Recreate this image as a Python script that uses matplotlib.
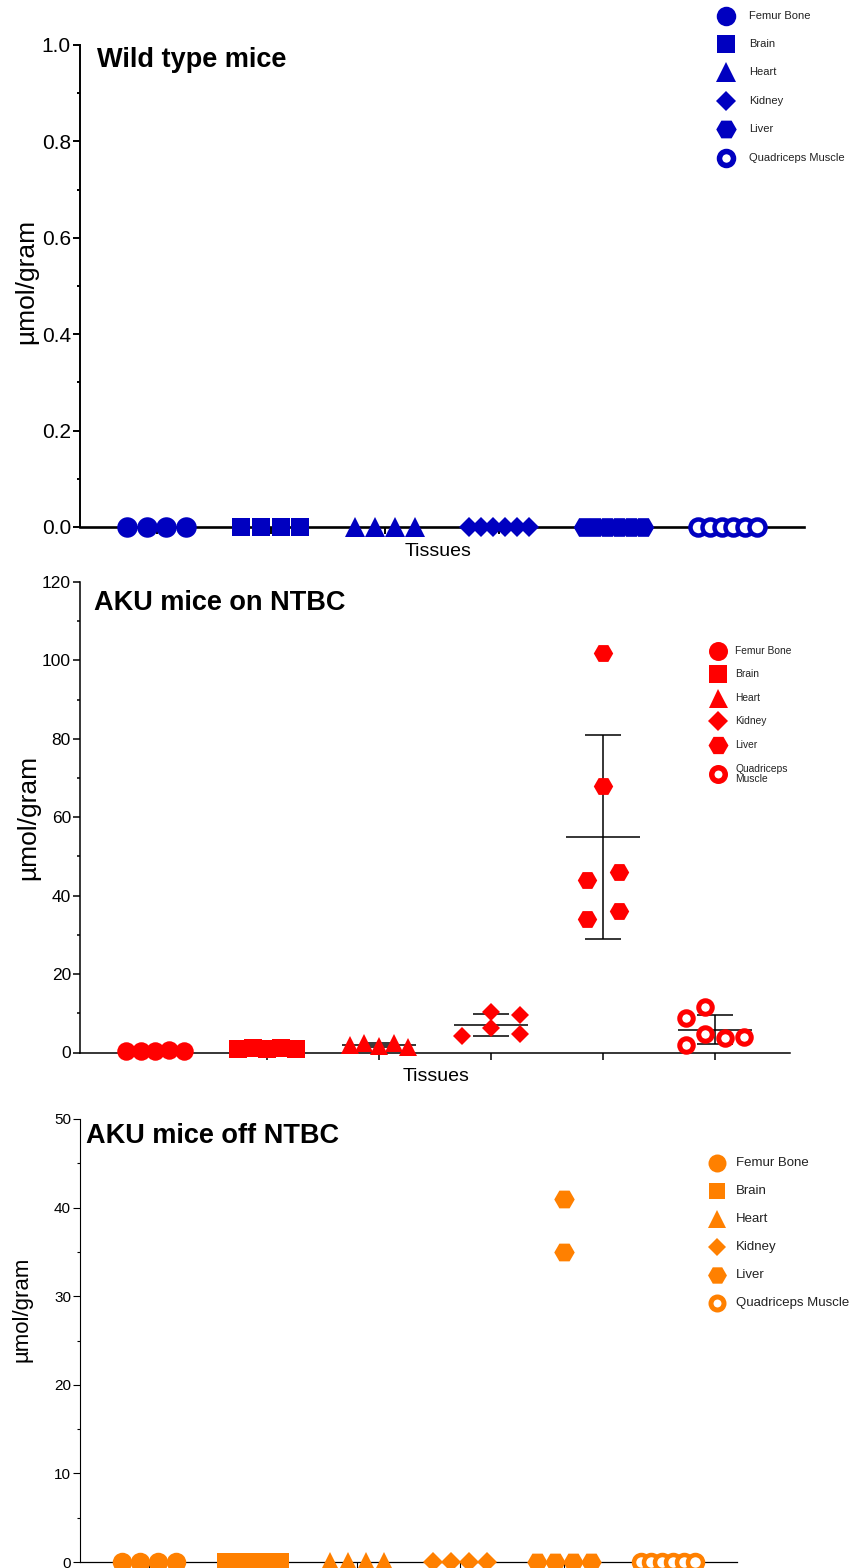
import matplotlib

matplotlib.use("Agg")
import matplotlib.pyplot as plt  # noqa: E402
import numpy as np  # noqa: E402
from matplotlib.lines import Line2D  # noqa: E402
from matplotlib.ticker import FormatStrFormatter, MultipleLocator  # noqa: E402

plt.rcParams["font.family"] = ["Liberation Sans", "DejaVu Sans"]

W_PX, H_PX, DPI = 850, 1568, 100
PT = 72.0 / DPI  # points per pixel

TISSUES = ["Femur Bone", "Brain", "Heart", "Kidney", "Liver", "Quadriceps Muscle"]
Y_LABEL = "\u00b5mol/gram"
X_LABEL = "Tissues"

# wild type mice (all below detection)
WT_FEMUR = [0.0, 0.0, 0.0, 0.0]
WT_BRAIN = [0.0, 0.0, 0.0, 0.0]
WT_HEART = [0.0, 0.0, 0.0, 0.0]
WT_KIDNEY = [0.0, 0.0, 0.0, 0.0, 0.0, 0.0]
WT_LIVER = [0.0, 0.0, 0.0, 0.0, 0.0, 0.0]
WT_QUAD = [0.0, 0.0, 0.0, 0.0, 0.0, 0.0]

# AKU mice on NTBC
ON_FEMUR = [0.5, 0.5, 0.4, 0.6, 0.5]
ON_BRAIN = [0.8, 1.2, 0.9, 1.1, 0.8]
ON_HEART = [2.0, 2.5, 1.6, 2.5, 1.4]
ON_KIDNEY = [4.2, 10.4, 9.5, 6.2, 4.7]
ON_LIVER = [102.0, 68.0, 44.0, 46.0, 34.0, 36.0]
ON_QUAD = [8.8, 11.7, 1.8, 4.8, 3.7, 3.9]

# AKU mice off NTBC
OFF_FEMUR = [0.0, 0.0, 0.0, 0.0]
OFF_BRAIN = [0.0, 0.0, 0.0, 0.0]
OFF_HEART = [0.0, 0.0, 0.0, 0.0]
OFF_KIDNEY = [0.0, 0.0, 0.0, 0.0]
OFF_LIVER = [41.0, 35.0, 0.0, 0.0, 0.0, 0.0]
OFF_QUAD = [0.0, 0.0, 0.0, 0.0, 0.0, 0.0]

# scatter layout for the NTBC-treated group (category units)
ON_OFFSETS = [
    [-0.256, -0.128, 0.0, 0.128, 0.256],
    [-0.256, -0.128, 0.0, 0.128, 0.256],
    [-0.26, -0.13, 0.0, 0.13, 0.26],
    [-0.26, 0.0, 0.26, 0.0, 0.26],
    [0.0, 0.0, -0.147, 0.147, -0.147, 0.147],
    [-0.26, -0.087, -0.26, -0.087, 0.087, 0.26],
]
ON_ERRORBARS = [False, False, True, True, True, True]

SHAPES = ["o", "s", "^", "D", "H", "o"]
SHAPE_SCALE = {"o": 1.0, "s": 0.92, "^": 1.0, "D": 0.72, "H": 1.05}


def fig_xy(x, y):
    return x / W_PX, 1.0 - y / H_PX


def row_offsets(values, half=0.26):
    """Spread points sharing the same value evenly across the category."""
    vals = np.asarray(values, dtype=float)
    offs = np.zeros(len(vals))
    for v in np.unique(vals):
        idx = np.where(vals == v)[0]
        if len(idx) > 1:
            offs[idx] = np.linspace(-half, half, len(idx))
    return offs


def marker_kw(shape, color, size_px, hollow, ring_px):
    if hollow:
        return dict(marker=shape, markersize=(size_px - ring_px) * PT, markerfacecolor="white",
                    markeredgecolor=color, markeredgewidth=ring_px * PT)
    return dict(marker=shape, markersize=size_px * SHAPE_SCALE[shape] * PT, markerfacecolor=color,
                markeredgewidth=0)


def draw_panel(fig, rect, groups, offsets, color, size_px, ring_px, ylim, major, minor, fmt,
               tick_fs, label_fs, label_x, label_y, spine_w, bottom_w, xlabel_pos):
    ax = fig.add_axes(rect)
    for i, (vals, offs) in enumerate(zip(groups, offsets)):
        xs = i + np.asarray(offs)
        ax.plot(xs, vals, linestyle="none", clip_on=False, zorder=4,
                **marker_kw(SHAPES[i], color, size_px, i == 5, ring_px))
    ax.set_xlim(-0.67, 5.67)
    ax.set_ylim(*ylim)
    ax.set_xticks(range(len(groups)))
    ax.set_xticklabels([])
    ax.yaxis.set_major_locator(MultipleLocator(major))
    ax.yaxis.set_minor_locator(MultipleLocator(minor))
    ax.yaxis.set_major_formatter(FormatStrFormatter(fmt))
    ax.tick_params(axis="y", which="major", length=5, width=spine_w, pad=1.5, labelsize=tick_fs)
    ax.tick_params(axis="y", which="minor", length=2.5, width=spine_w)
    ax.tick_params(axis="x", which="major", length=5, width=spine_w)
    for side in ("top", "right"):
        ax.spines[side].set_visible(False)
    ax.spines["left"].set_linewidth(spine_w)
    ax.spines["bottom"].set_linewidth(bottom_w)
    ax.set_ylabel(Y_LABEL, fontsize=label_fs)
    ax.yaxis.set_label_coords(label_x, label_y)
    if xlabel_pos is not None:
        ax.set_xlabel(X_LABEL, fontsize=14)
        ax.xaxis.set_label_coords(*xlabel_pos)
    return ax


def draw_errorbar(ax, x, values, half=0.33, cap=0.16):
    vals = np.asarray(values, dtype=float)
    m, sd = vals.mean(), vals.std(ddof=1)
    kw = dict(colors="black", linewidth=1.1, zorder=3)
    ax.hlines(m, x - half, x + half, **kw)
    ax.hlines([m - sd, m + sd], x - cap, x + cap, **kw)
    ax.vlines(x, m - sd, m + sd, **kw)


def draw_legend(fig, labels, color, mx, tx, ys, size_px, fs, ring_px):
    for i, (lab, y) in enumerate(zip(labels, ys)):
        fx, fy = fig_xy(mx, y)
        fig.add_artist(Line2D([fx], [fy], transform=fig.transFigure, linestyle="none",
                              **marker_kw(SHAPES[i], color, size_px, i == 5, ring_px)))
        tx_f, ty_f = fig_xy(tx, y)
        fig.text(tx_f, ty_f, lab, fontsize=fs, ha="left", va="center", color="#222222",
                 linespacing=1.1)


def draw_title(fig, text, x, y):
    fx, fy = fig_xy(x, y)
    fig.text(fx, fy, text, fontsize=19.5, fontweight="bold", ha="left", va="baseline")


fig = plt.figure(figsize=(W_PX / DPI, H_PX / DPI), dpi=DPI)

BLUE = "#0000c0"
RED = "#ff0000"
ORANGE = "#ff8000"

# --- wild type ---
wt = [WT_FEMUR, WT_BRAIN, WT_HEART, WT_KIDNEY, WT_LIVER, WT_QUAD]
ax1 = draw_panel(fig, [80 / W_PX, 1 - 527 / H_PX, 724 / W_PX, 482 / H_PX], wt,
                 [row_offsets(v) for v in wt], BLUE, 20.5, 4.5, (0, 1.0), 0.2, 0.1, "%.1f",
                 15, 19, -0.058, 0.51, 1.4, 1.9, (0.494, -0.033))
draw_title(fig, "Wild type mice", 97, 67)
draw_legend(fig, TISSUES, BLUE, 726, 749, [16, 44, 72, 101, 129, 158], 19.5, 8, 5.5)

# --- AKU on NTBC ---
on = [ON_FEMUR, ON_BRAIN, ON_HEART, ON_KIDNEY, ON_LIVER, ON_QUAD]
ax2 = draw_panel(fig, [80 / W_PX, 1 - 1052.5 / H_PX, 710 / W_PX, 470.5 / H_PX], on,
                 ON_OFFSETS, RED, 18.5, 5, (0, 120), 20, 10, "%d",
                 12.5, 19, -0.056, 0.50, 1.1, 1.1, (0.501, -0.033))
for i, show in enumerate(ON_ERRORBARS):
    if show:
        draw_errorbar(ax2, i, on[i])
draw_title(fig, "AKU mice on NTBC", 94, 610)
on_labels = TISSUES[:5] + ["Quadriceps\nMuscle"]
draw_legend(fig, on_labels, RED, 718, 735, [651, 674, 698, 721, 745, 774], 19, 7.4, 5.5)

# --- AKU off NTBC ---
off = [OFF_FEMUR, OFF_BRAIN, OFF_HEART, OFF_KIDNEY, OFF_LIVER, OFF_QUAD]
ax3 = draw_panel(fig, [80 / W_PX, 1 - 1562 / H_PX, 657 / W_PX, 443 / H_PX], off,
                 [row_offsets(v) for v in off], ORANGE, 19.5, 4.5, (0, 50), 10, 5, "%d",
                 11, 16, -0.072, 0.57, 0.8, 0.9, None)
draw_title(fig, "AKU mice off NTBC", 86, 1143)
draw_legend(fig, TISSUES, ORANGE, 717, 736, [1163, 1191, 1219, 1247, 1275, 1303], 18, 9.5, 5)

fig.savefig("out.png", dpi=DPI)
